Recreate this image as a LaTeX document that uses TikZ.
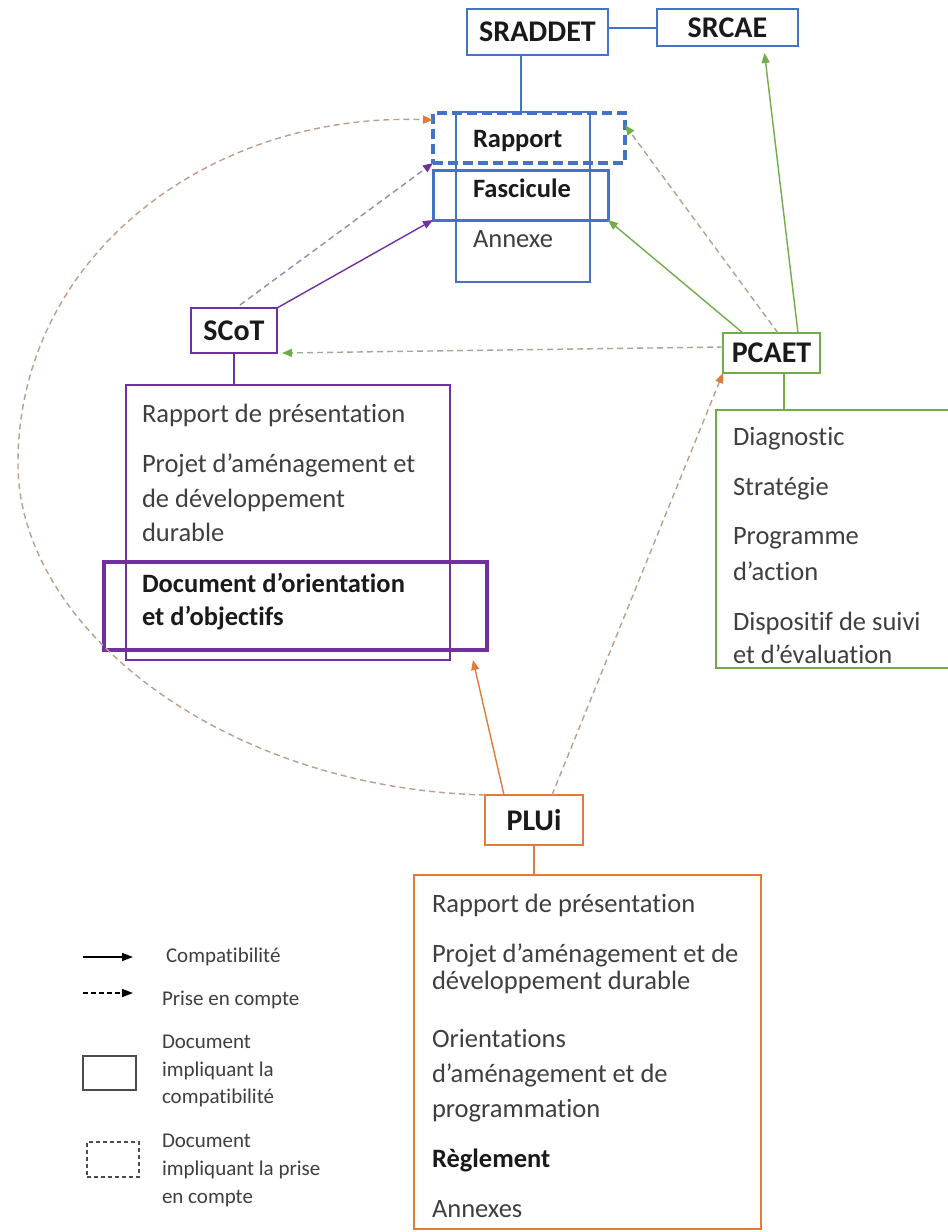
\documentclass[tikz,border=0pt]{standalone}
\usepackage{fontspec}
\setmainfont{Carlito}[Ligatures=NoCommon]
\usetikzlibrary{arrows.meta,calc}
\definecolor{cBlue}{HTML}{4472C4}
\definecolor{cPurple}{HTML}{7030A0}
\definecolor{cGreen}{HTML}{70AD47}
\definecolor{cOrange}{HTML}{E07B39}
\definecolor{txtG}{HTML}{3F3F3F}
\definecolor{txtB}{HTML}{1A1A1A}
\begin{document}
\begin{tikzpicture}[x=1pt,y=-1pt,
  box/.style={draw, inner sep=0pt, outer sep=0pt, anchor=north west},
  lbl/.style={font=\fontsize{30}{35}\selectfont\bfseries, text=txtB},
  item/.style={anchor=base west, inner sep=0pt, outer sep=0pt, font=\fontsize{26.5}{35}\selectfont, text=txtG},
  itemb/.style={item, font=\fontsize{26.5}{35}\selectfont\bfseries, text=txtB},
  leg/.style={anchor=base west, inner sep=0pt, outer sep=0pt, font=\fontsize{21}{28}\selectfont, text=txtG},
  conn/.style={line width=1.4pt, draw=#1, -{Triangle[length=10pt,width=8pt,color=#1]}},
  dconn/.style={line width=1.4pt, dash pattern=on 6pt off 4pt, draw=#1!40!gray!75, -{Triangle[length=10pt,width=8pt,color=#1]}},
  tie/.style={line width=2pt, draw=#1}]
\useasboundingbox (0,0) rectangle (948,1232);
\fill[white] (0,0) rectangle (948,1232);

% ---------- SRADDET group ----------
\node[box, draw=cBlue, line width=2pt, minimum width=141pt, minimum height=46pt, lbl] (sraddet) at (467,9) {SRADDET};
\node[box, draw=cBlue, line width=2pt, minimum width=141pt, minimum height=37pt, lbl] (srcae) at (657,9) {SRCAE};
\node[box, draw=cBlue, line width=2pt, minimum width=134pt, minimum height=170pt] (annexe) at (456,112) {};
\node[box, draw=cBlue, line width=3.5pt, dash pattern=on 10pt off 5pt, minimum width=192pt, minimum height=50pt] (rapport) at (433,113) {};
\node[box, draw=cBlue, line width=3pt, minimum width=175pt, minimum height=50pt] (fasc) at (433,170) {};
\node[itemb] (tRapport) at (473,147) {Rapport};
\node[itemb] (tFasc) at (473,197) {Fascicule};
\node[item] (tAnnexe) at (473,247) {Annexe};
\draw[tie=cBlue] (srcae.west) -- (srcae.west -| sraddet.east);
\draw[tie=cBlue] ([xshift=-16.5pt]sraddet.south) -- ([xshift=-16.5pt]sraddet.south |- annexe.north);

% ---------- SCoT group ----------
\node[box, draw=cPurple, line width=2.5pt, minimum width=86pt, minimum height=45pt, lbl] (scot) at (191,308) {SCoT};
\node[box, draw=cPurple, line width=2pt, minimum width=324pt, minimum height=275pt] (scotbox) at (126,385) {};
\node[box, draw=cPurple, line width=4pt, minimum width=383pt, minimum height=88pt] (doo) at (104,562) {};
\draw[tie=cPurple] (scot.south) -- (scot.south |- scotbox.north);
\node[item] (s1) at (142,422) {Rapport de présentation};
\node[item] (s2) at (142,472) {Projet d’aménagement et};
\node[item] (s3) at (142,507) {de développement};
\node[item] (s4) at (142,541) {durable};
\node[itemb] (s5) at (142,592) {Document d’orientation};
\node[itemb] (s6) at (142,625) {et d’objectifs};

% ---------- PCAET group ----------
\node[box, draw=cGreen, line width=2.5pt, minimum width=97pt, minimum height=40pt, lbl] (pcaet) at (723,333) {PCAET};
\node[box, draw=none, minimum width=232pt, minimum height=258pt] (pcaetbox) at (716,410) {};
\draw[line width=2pt, cGreen] (pcaetbox.north east) -- (pcaetbox.north west) -- (pcaetbox.south west) -- (pcaetbox.south east);
\draw[tie=cGreen] ([xshift=12.5pt]pcaet.south) -- ([xshift=12.5pt]pcaet.south |- pcaetbox.north);
\node[item] (p1) at (733,445) {Diagnostic};
\node[item] (p2) at (733,495) {Stratégie};
\node[item] (p3) at (733,544) {Programme};
\node[item] (p4) at (733,580) {d’action};
\node[item] (p5) at (733,630) {Dispositif de suivi};
\node[item] (p6) at (733,663) {et d’évaluation};

% ---------- PLUi group ----------
\node[box, draw=cOrange, line width=2.5pt, minimum width=98pt, minimum height=50pt, lbl] (plui) at (485,795) {PLUi};
\node[box, draw=cOrange, line width=2pt, minimum width=347pt, minimum height=354pt] (pluibox) at (414,875) {};
\draw[tie=cOrange] (plui.south) -- (plui.south |- pluibox.north);
\node[item] (l1) at (432,912) {Rapport de présentation};
\node[item] (l2) at (432,962) {Projet d’aménagement et de};
\node[item] (l3) at (432,989) {développement durable};
\node[item] (l4) at (432,1047) {Orientations};
\node[item] (l5) at (432,1082) {d’aménagement et de};
\node[item] (l6) at (432,1117) {programmation};
\node[itemb] (l7) at (432,1167) {Règlement};
\node[item] (l8) at (432,1217) {Annexes};

% ---------- connectors ----------
\draw[conn=cPurple] (scot.north east) -- (fasc.south west);
\draw[dconn=cPurple] ([xshift=6pt,yshift=3pt]scot.north) -- (rapport.south west);
\coordinate (curveL) at (18,460);
\draw[dconn=cOrange] (plui.north west) .. controls (220,788) and (15,625) .. (curveL)
   .. controls (20,255) and (210,112) .. ([yshift=18pt]rapport.west);
\draw[conn=cOrange] ([xshift=19pt]plui.north west) -- ([xshift=-14pt,yshift=-10pt]doo.south east);
\draw[dconn=cOrange] ([xshift=67pt]plui.north west) -- (pcaet.south west);
\draw[conn=cGreen] ([xshift=20pt]pcaet.north west) -- (fasc.south east);
\draw[dconn=cGreen] ([xshift=55pt]pcaet.north west) -- ([yshift=-12pt]rapport.north east);
\draw[conn=cGreen] ([xshift=75pt]pcaet.north west) -- ([xshift=37pt,yshift=-7pt]srcae.south);
\draw[dconn=cGreen] ([yshift=6pt]pcaet.west) -- ([xshift=5pt]scot.south east);

% ---------- legend ----------
\coordinate (la1) at (83,957); \coordinate (la2) at (133,957);
\coordinate (lb1) at (83,993); \coordinate (lb2) at (133,993);
\draw[line width=1.6pt, black, -{Triangle[length=11pt,width=8pt]}] (la1) -- (la2);
\draw[line width=1.6pt, black, dash pattern=on 5pt off 3pt, -{Triangle[length=11pt,width=8pt]}] (lb1) -- (lb2);
\node[leg] (lg1) at (166,962) {Compatibilité};
\node[leg] (lg2) at (162,1005) {Prise en compte};
\node[box, draw=gray!60!black, line width=1.6pt, minimum width=53pt, minimum height=34pt] (legsolid) at (83,1056) {};
\node[leg] (lg3) at (162,1048) {Document};
\node[leg] (lg4) at (162,1076) {impliquant la};
\node[leg] (lg5) at (162,1103) {compatibilité};
\node[box, draw=gray!60!black, line width=1.4pt, dash pattern=on 4pt off 3pt, minimum width=52pt, minimum height=35pt] (legdash) at (87,1142) {};
\node[leg] (lg6) at (162,1147) {Document};
\node[leg] (lg7) at (162,1175) {impliquant la prise};
\node[leg] (lg8) at (162,1203) {en compte};
\end{tikzpicture}
\end{document}
